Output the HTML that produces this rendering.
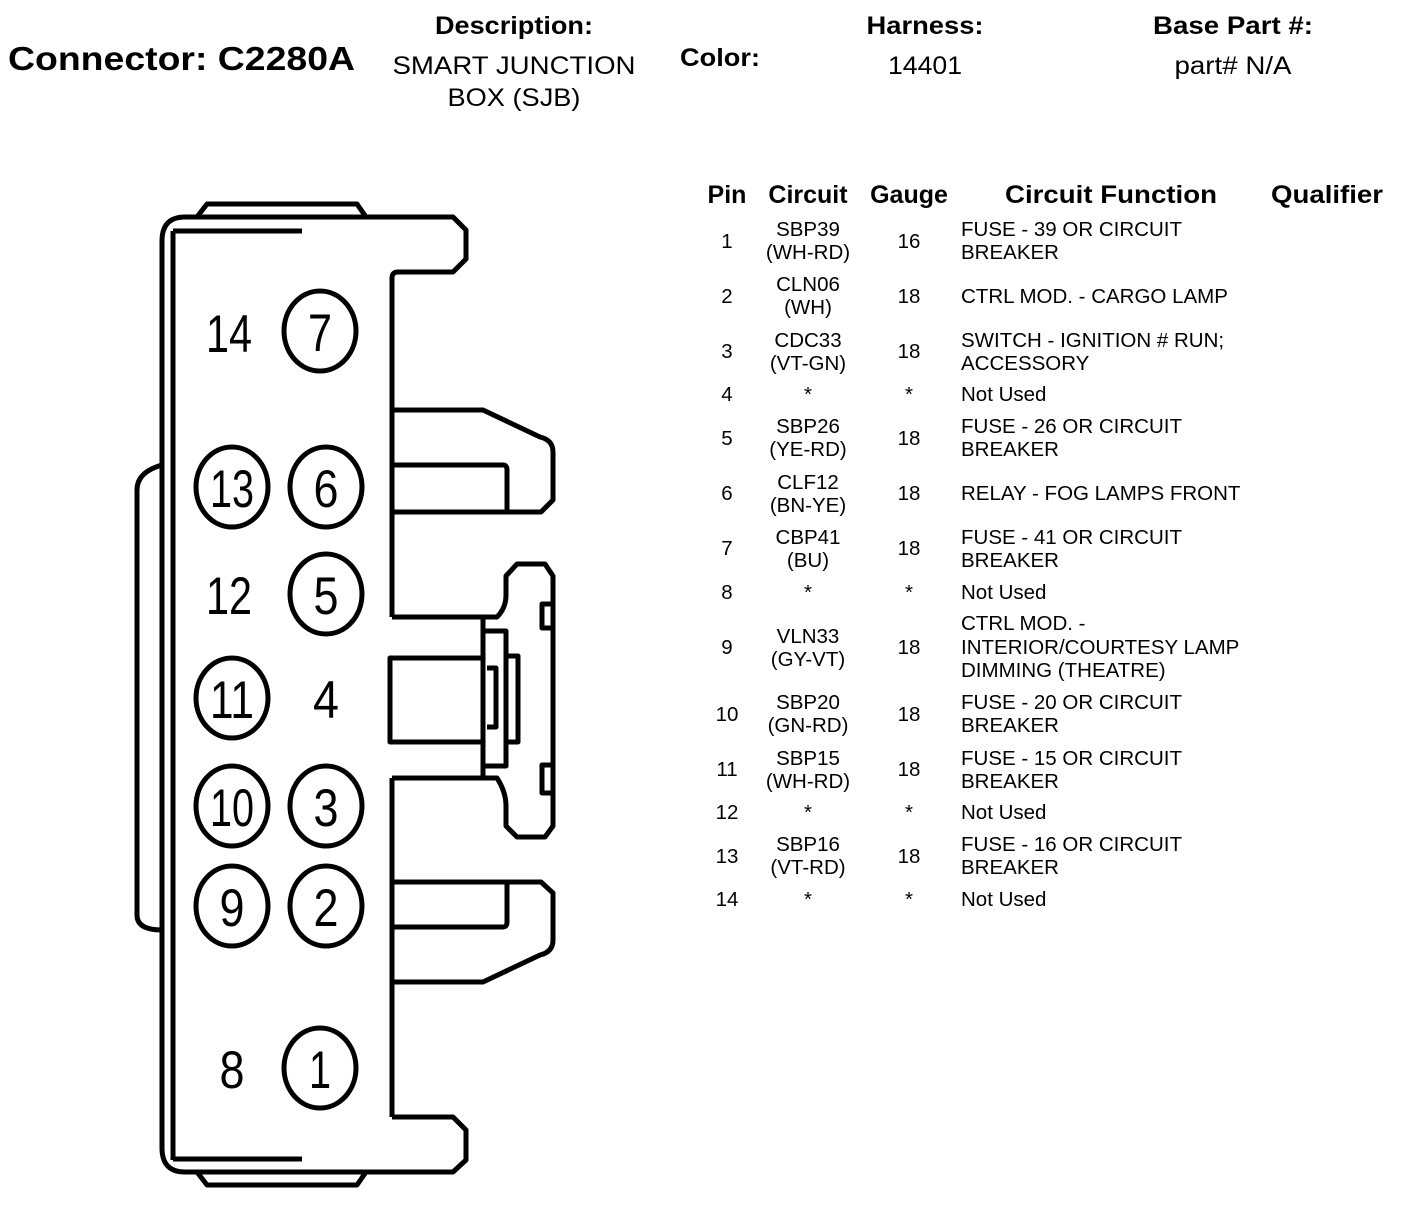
<!DOCTYPE html>
<html><head><meta charset="utf-8"><style>
html,body{margin:0;padding:0;background:#fff;width:1408px;height:1210px;overflow:hidden}
svg{display:block}
text{font-family:"Liberation Sans",Arial,sans-serif;fill:#000}
.h{font-weight:bold;font-size:25px}
.t{font-size:20.5px}
.c{text-anchor:middle}
.n{font-size:53px;text-anchor:middle}
</style></head><body>
<svg width="1408" height="1210" viewBox="0 0 1408 1210" xmlns="http://www.w3.org/2000/svg">
<text x="8" y="70" style="font-weight:bold;font-size:33px" textLength="347" lengthAdjust="spacingAndGlyphs">Connector: C2280A</text>
<text x="514" y="34" class="h c" textLength="158" lengthAdjust="spacingAndGlyphs">Description:</text>
<text x="514" y="74" class="c" style="font-size:25px" textLength="243" lengthAdjust="spacingAndGlyphs">SMART JUNCTION</text>
<text x="514" y="106" class="c" style="font-size:25px" textLength="133" lengthAdjust="spacingAndGlyphs">BOX (SJB)</text>
<text x="680" y="66" class="h" textLength="80" lengthAdjust="spacingAndGlyphs">Color:</text>
<text x="925" y="34" class="h c" textLength="117" lengthAdjust="spacingAndGlyphs">Harness:</text>
<text x="925" y="74" class="c" style="font-size:25px" textLength="74" lengthAdjust="spacingAndGlyphs">14401</text>
<text x="1233" y="34" class="h c" textLength="160" lengthAdjust="spacingAndGlyphs">Base Part #:</text>
<text x="1233" y="74" class="c" style="font-size:25px" textLength="117" lengthAdjust="spacingAndGlyphs">part# N/A</text>

<text x="727" y="203" class="h c">Pin</text>
<text x="808" y="203" class="h c">Circuit</text>
<text x="909" y="203" class="h c">Gauge</text>
<text x="1111" y="203" class="h c" textLength="212" lengthAdjust="spacingAndGlyphs">Circuit Function</text>
<text x="1327" y="203" class="h c" textLength="112" lengthAdjust="spacingAndGlyphs">Qualifier</text>

<g class="t">
<text x="727" y="248" class="c">1</text><text x="808" y="236" class="c">SBP39</text><text x="808" y="259" class="c">(WH-RD)</text><text x="909" y="248" class="c">16</text>
<text x="961" y="236">FUSE - 39 OR CIRCUIT</text><text x="961" y="259">BREAKER</text>
<text x="727" y="303" class="c">2</text><text x="808" y="291" class="c">CLN06</text><text x="808" y="314" class="c">(WH)</text><text x="909" y="303" class="c">18</text>
<text x="961" y="303">CTRL MOD. - CARGO LAMP</text>
<text x="727" y="358" class="c">3</text><text x="808" y="347" class="c">CDC33</text><text x="808" y="370" class="c">(VT-GN)</text><text x="909" y="358" class="c">18</text>
<text x="961" y="347">SWITCH - IGNITION # RUN;</text><text x="961" y="370">ACCESSORY</text>
<text x="727" y="401" class="c">4</text><text x="808" y="401" class="c">*</text><text x="909" y="401" class="c">*</text><text x="961" y="401">Not Used</text>
<text x="727" y="445" class="c">5</text><text x="808" y="433" class="c">SBP26</text><text x="808" y="456" class="c">(YE-RD)</text><text x="909" y="445" class="c">18</text>
<text x="961" y="433">FUSE - 26 OR CIRCUIT</text><text x="961" y="456">BREAKER</text>
<text x="727" y="500" class="c">6</text><text x="808" y="489" class="c">CLF12</text><text x="808" y="512" class="c">(BN-YE)</text><text x="909" y="500" class="c">18</text>
<text x="961" y="500">RELAY - FOG LAMPS FRONT</text>
<text x="727" y="555" class="c">7</text><text x="808" y="544" class="c">CBP41</text><text x="808" y="567" class="c">(BU)</text><text x="909" y="555" class="c">18</text>
<text x="961" y="544">FUSE - 41 OR CIRCUIT</text><text x="961" y="567">BREAKER</text>
<text x="727" y="599" class="c">8</text><text x="808" y="599" class="c">*</text><text x="909" y="599" class="c">*</text><text x="961" y="599">Not Used</text>
<text x="727" y="654" class="c">9</text><text x="808" y="643" class="c">VLN33</text><text x="808" y="666" class="c">(GY-VT)</text><text x="909" y="654" class="c">18</text>
<text x="961" y="630">CTRL MOD. -</text><text x="961" y="654">INTERIOR/COURTESY LAMP</text><text x="961" y="677">DIMMING (THEATRE)</text>
<text x="727" y="721" class="c">10</text><text x="808" y="709" class="c">SBP20</text><text x="808" y="732" class="c">(GN-RD)</text><text x="909" y="721" class="c">18</text>
<text x="961" y="709">FUSE - 20 OR CIRCUIT</text><text x="961" y="732">BREAKER</text>
<text x="727" y="776" class="c">11</text><text x="808" y="765" class="c">SBP15</text><text x="808" y="788" class="c">(WH-RD)</text><text x="909" y="776" class="c">18</text>
<text x="961" y="765">FUSE - 15 OR CIRCUIT</text><text x="961" y="788">BREAKER</text>
<text x="727" y="819" class="c">12</text><text x="808" y="819" class="c">*</text><text x="909" y="819" class="c">*</text><text x="961" y="819">Not Used</text>
<text x="727" y="863" class="c">13</text><text x="808" y="851" class="c">SBP16</text><text x="808" y="874" class="c">(VT-RD)</text><text x="909" y="863" class="c">18</text>
<text x="961" y="851">FUSE - 16 OR CIRCUIT</text><text x="961" y="874">BREAKER</text>
<text x="727" y="906" class="c">14</text><text x="808" y="906" class="c">*</text><text x="909" y="906" class="c">*</text><text x="961" y="906">Not Used</text>
</g>

<g fill="none" stroke="#000" stroke-width="5" stroke-linejoin="round">
<path d="M197,217 L207,204 L357,204 L366,217"/>
<path d="M197,1172 L207,1185 L357,1185 L366,1172"/>
<path d="M392,1117 L453,1117 L466,1130 L466,1160 L453,1172 L185,1172 Q162,1172 162,1148 L162,241 Q162,217 185,217 L453,217 L466,230 L466,259 L453,272 L398,272 Q392,272 392,278 L392,617"/>
<path d="M392,778 L392,1117"/>
<path d="M173,1160 L173,231"/>
<path d="M173,231 L302,231"/>
<path d="M173,1159 L302,1159"/>
<path d="M162,465 Q137,472 137,490 L137,915 Q137,930 162,930"/>
<path d="M392,410 L483,410 L540,437 Q553,440 553,452 L553,500 L541,512 L392,512"/>
<path d="M392,465 L503,465 Q507,465 507,470 L507,512"/>
<path d="M392,982 L483,982 L540,955 Q553,952 553,940 L553,893 L541,882 L392,882"/>
<path d="M392,927 L503,927 Q507,927 507,922 L507,882"/>
<path d="M392,617 L497,617 Q506,608 506,595 L506,576 L517,564 L545,564 L553,576 L553,826 L545,837 L517,837 L506,826 L506,806 Q506,792 497,778 L392,778"/>
<path d="M483,658 L390,658 L390,742 L483,742"/>
<path d="M483,617 L483,778"/>
<path d="M483,631 L506,631 L506,766 L483,766"/>
<path d="M487,668 L496,668 L496,727 L487,727"/>
<path d="M507,656 L518,656 L518,742 L507,742"/>
<path d="M553,604 L542,604 L542,628 L553,628"/>
<path d="M553,765 L542,765 L542,793 L553,793"/>
<ellipse cx="320" cy="331" rx="36" ry="40"/>
<ellipse cx="232" cy="487" rx="36" ry="40"/>
<ellipse cx="326" cy="487" rx="36" ry="40"/>
<ellipse cx="326" cy="594" rx="36" ry="40"/>
<ellipse cx="232" cy="698" rx="36" ry="40"/>
<ellipse cx="232" cy="806" rx="36" ry="40"/>
<ellipse cx="326" cy="806" rx="36" ry="40"/>
<ellipse cx="232" cy="906" rx="36" ry="40"/>
<ellipse cx="326" cy="906" rx="36" ry="40"/>
<ellipse cx="320" cy="1068" rx="36" ry="40"/>
</g>
<g>
<text x="229" y="352" class="n" textLength="46" lengthAdjust="spacingAndGlyphs">14</text>
<text x="320" y="351" class="n" textLength="24" lengthAdjust="spacingAndGlyphs">7</text>
<text x="232" y="507" class="n" textLength="44" lengthAdjust="spacingAndGlyphs">13</text>
<text x="326" y="507" class="n" textLength="25" lengthAdjust="spacingAndGlyphs">6</text>
<text x="229" y="614" class="n" textLength="46" lengthAdjust="spacingAndGlyphs">12</text>
<text x="326" y="614" class="n" textLength="25" lengthAdjust="spacingAndGlyphs">5</text>
<text x="232" y="718" class="n" textLength="44" lengthAdjust="spacingAndGlyphs">11</text>
<text x="326" y="718" class="n" textLength="26" lengthAdjust="spacingAndGlyphs">4</text>
<text x="232" y="826" class="n" textLength="44" lengthAdjust="spacingAndGlyphs">10</text>
<text x="326" y="826" class="n" textLength="25" lengthAdjust="spacingAndGlyphs">3</text>
<text x="232" y="926" class="n" textLength="25" lengthAdjust="spacingAndGlyphs">9</text>
<text x="326" y="926" class="n" textLength="25" lengthAdjust="spacingAndGlyphs">2</text>
<text x="232" y="1088" class="n" textLength="25" lengthAdjust="spacingAndGlyphs">8</text>
<text x="320" y="1088" class="n" textLength="22" lengthAdjust="spacingAndGlyphs">1</text>
</g>
</svg>
</body></html>
